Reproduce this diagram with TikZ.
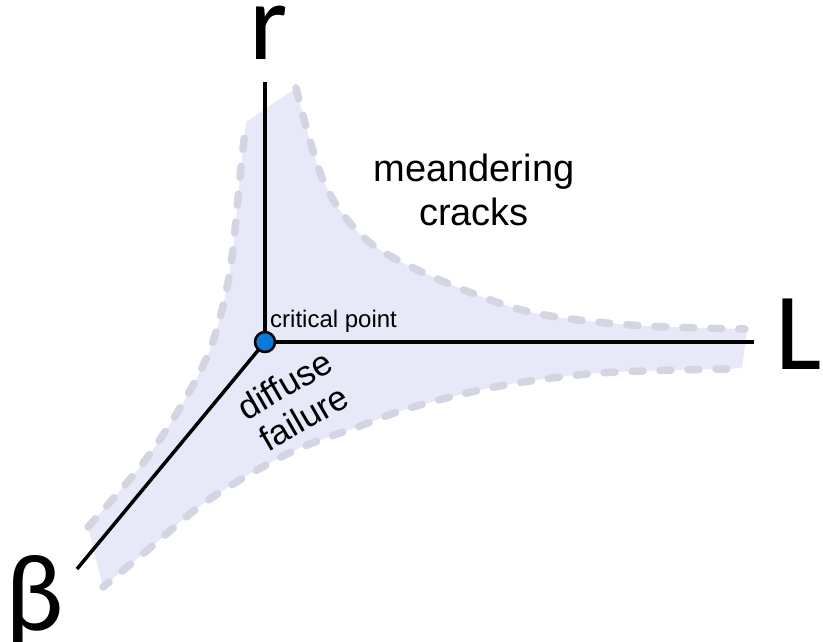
\documentclass[tikz,border=0pt]{standalone}
\usepackage{fontspec}
\setmainfont{Liberation Sans}
\newfontfamily\axfont{Carlito}
\definecolor{regfill}{RGB}{231,233,248}
\definecolor{regdash}{RGB}{211,213,227}
\definecolor{cpblue}{RGB}{10,122,212}
\begin{document}
\begin{tikzpicture}[x=1pt,y=-1pt,
  axisline/.style={line width=3.5pt, black},
  bound/.style={draw=regdash, line width=7.5pt, line cap=round, dash pattern=on 11pt off 17pt},
  axlabel/.style={font=\axfont\fontsize{110}{110}\selectfont, inner sep=0pt, anchor=base west},
  regtext/.style={font=\fontsize{38}{43}\selectfont, inner sep=0pt, anchor=base},
  difftext/.style={font=\fontsize{35}{38}\selectfont, inner sep=0pt, align=center, rotate=30},
  cptext/.style={font=\fontsize{24}{26}\selectfont, inner sep=0pt, anchor=base west},
  cpdot/.style={circle, fill=cpblue, draw=black, line width=2.5pt, minimum size=20pt, inner sep=0pt}]
\useasboundingbox (0,0) rectangle (823,642);
% shaded region
\fill[regfill]
  plot[smooth, tension=0.55] coordinates {(296,88) (307,130) (323,180) (345,217) (380,250) (447,283) (530,312) (630,325) (747,329)}
  -- (742,368)
  -- plot[smooth, tension=0.55] coordinates {(727,369) (600,373) (500,386) (413,407) (360,426) (300,448) (250,474) (200,506) (150,548) (103,587)}
  -- plot[smooth, tension=0.55] coordinates {(88,527) (140,467) (177,413) (207,357) (222,310) (232,257) (240,177) (246,122)}
  -- cycle;
% dashed boundaries
\draw[bound] plot[smooth, tension=0.55] coordinates {(296,88) (307,130) (323,180) (345,217) (380,250) (447,283) (530,312) (630,325) (745,329)};
\draw[bound] plot[smooth, tension=0.55] coordinates {(727,369) (600,373) (500,386) (413,407) (360,426) (300,448) (250,474) (200,506) (150,548) (103,587)};
\draw[bound] plot[smooth, tension=0.55] coordinates {(88,527) (140,467) (177,413) (207,357) (222,310) (232,257) (240,177) (246,122)};
% axes
\coordinate (cpc) at (265,342);
\coordinate (rtop) at (265,82);
\coordinate (Lend) at (754,342);
\coordinate (bend) at (77,569);
\draw[axisline] (cpc) -- (rtop);
\draw[axisline] (cpc) -- (Lend);
\draw[axisline] (cpc) -- (bend);
\node[cpdot] (cp) at (cpc) {};
% labels
\node[axlabel] (rlab) at (249,60) {r};
\node[axlabel] (Llab) at (775,369) {L};
\node[axlabel] (blab) at (5,630) {β};
\node[regtext] (mea) at (474,182) {meandering};
\node[regtext] (cra) at (474,225) {cracks};
\node[difftext] (dif) at (294,401) {diffuse\\failure};
\node[cptext] (cpl) at (270,327) {critical point};
\end{tikzpicture}
\end{document}
